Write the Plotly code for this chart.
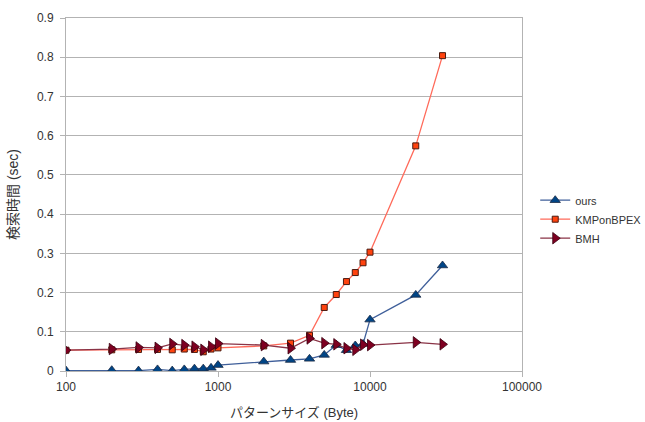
import plotly.graph_objects as go

sizes = [100, 200, 300, 400, 500, 600, 700, 800, 900, 1000,
         2000, 3000, 4000, 5000, 6000, 7000, 8000, 9000, 10000, 20000, 30000]
ours = [0.001, 0.002, 0.001, 0.004, 0.001, 0.004, 0.006, 0.006, 0.008, 0.015,
        0.024, 0.028, 0.031, 0.041, 0.066, 0.053, 0.065, 0.069, 0.131, 0.194, 0.269]
kmp = [0.053, 0.054, 0.055, 0.055, 0.054, 0.056, 0.055, 0.049, 0.056, 0.059,
       0.064, 0.071, 0.091, 0.162, 0.195, 0.228, 0.251, 0.276, 0.303, 0.574, 0.804]
bmh = [0.053, 0.056, 0.060, 0.059, 0.069, 0.066, 0.062, 0.054, 0.062, 0.070,
       0.066, 0.058, 0.083, 0.071, 0.068, 0.058, 0.054, 0.067, 0.066, 0.073, 0.068]

x_ticks = [100, 1000, 10000, 100000]
x_ticktext = ["100", "1000", "10000", "100000"]

FONT = "Liberation Sans, Arial, Noto Sans CJK JP, sans-serif"

fig = go.Figure()
fig.add_trace(go.Scatter(
    x=sizes, y=ours, name="ours", mode="lines+markers",
    line=dict(color="#3f5f9a", width=1.3),
    marker=dict(symbol="triangle-up", size=9, color="#004586",
                line=dict(color="#1a2a44", width=0.8)),
))
fig.add_trace(go.Scatter(
    x=sizes, y=kmp, name="KMPonBPEX", mode="lines+markers",
    line=dict(color="#ff6a5a", width=1.3),
    marker=dict(symbol="square", size=6, color="#ff420e",
                line=dict(color="#4a1a10", width=1)),
))
fig.add_trace(go.Scatter(
    x=sizes, y=bmh, name="BMH", mode="lines+markers",
    line=dict(color="#8a3346", width=1.3),
    marker=dict(symbol="triangle-right", size=10, color="#7e0021",
                line=dict(color="#3a0010", width=0.8)),
))

fig.update_layout(
    width=645, height=422,
    margin=dict(l=66, r=123, t=18, b=51, autoexpand=False),
    paper_bgcolor="white", plot_bgcolor="white",
    font=dict(family=FONT, size=12, color="#333333"),
    showlegend=True,
    legend=dict(x=1.029, y=0.43, xanchor="left", yanchor="middle",
                font=dict(size=11, color="#333333"),
                bgcolor="rgba(0,0,0,0)", tracegroupgap=0, itemwidth=30),
    xaxis=dict(
        type="log", range=[2, 5],
        tickvals=x_ticks, ticktext=x_ticktext,
        showgrid=False, zeroline=False,
        showline=True, linecolor="#b3b3b3", linewidth=1, mirror=True,
        ticks="outside", ticklen=5, tickcolor="#b3b3b3",
        tickfont=dict(size=12, color="#333333"),
        title=dict(text="パターンサイズ (Byte)", font=dict(size=13, color="#333333"), standoff=14),
    ),
    yaxis=dict(
        range=[0, 0.9], dtick=0.1, tick0=0,
        showgrid=True, gridcolor="#b3b3b3", gridwidth=1, zeroline=False,
        showline=True, linecolor="#b3b3b3", linewidth=1, mirror=True,
        ticks="outside", ticklen=5, tickcolor="#b3b3b3", ticklabelstandoff=4,
        tickfont=dict(size=12, color="#333333"),
        title=dict(text="検索時間 (sec)", font=dict(size=14, color="#333333"), standoff=15),
    ),
)

fig.write_html("out.html",
               config={"displayModeBar": False},
               post_script="document.body.style.margin='0';document.body.style.overflow='hidden';")
